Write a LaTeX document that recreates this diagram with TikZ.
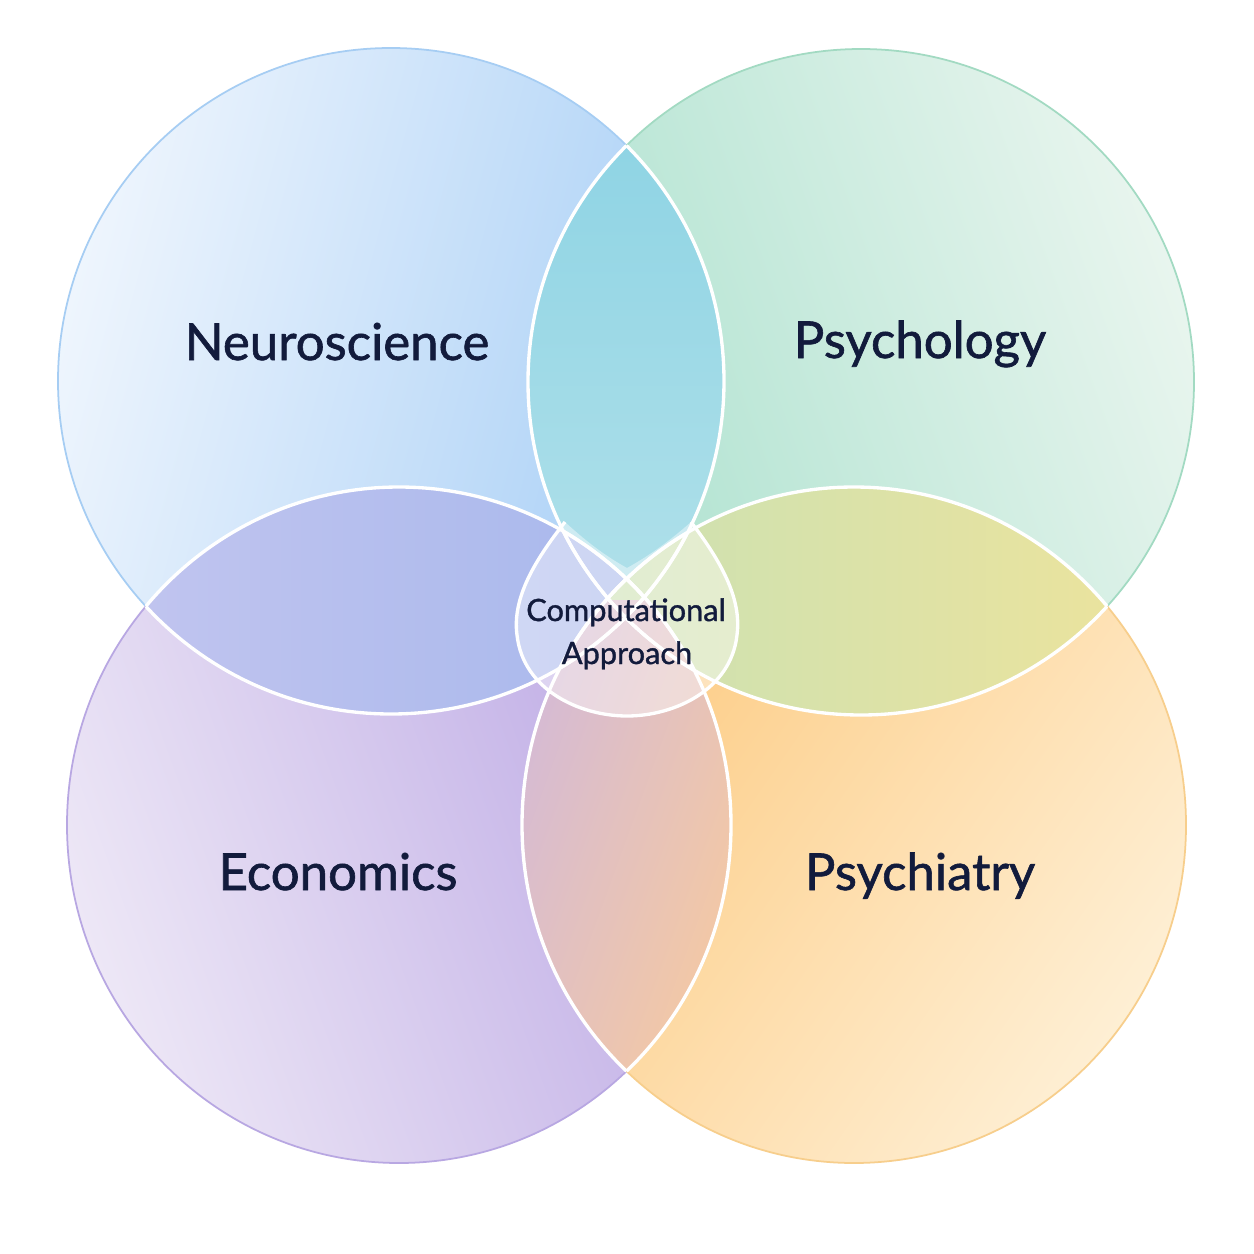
\documentclass[tikz,border=0pt]{standalone}
\usepackage{fontspec}
\setmainfont{Lato}
\newfontfamily\lblfont{Lato}[FakeBold=1.2]
\definecolor{ink}{HTML}{121B3C}
\definecolor{tlA}{HTML}{EEF5FD}
\definecolor{tlB}{HTML}{A6CEF6}
\definecolor{trA}{HTML}{E8F5EE}
\definecolor{trB}{HTML}{ABE1CE}
\definecolor{blA}{HTML}{EDE7F6}
\definecolor{blB}{HTML}{BBA7E4}
\definecolor{brA}{HTML}{FEEFD4}
\definecolor{brB}{HTML}{FDC97E}
\definecolor{tlO}{HTML}{A6CDF3}
\definecolor{trO}{HTML}{A2DAC2}
\definecolor{blO}{HTML}{B8A7E2}
\definecolor{brO}{HTML}{F7CE8C}
\definecolor{tA}{HTML}{8FD4E4}
\definecolor{tB}{HTML}{B2E1EA}
\definecolor{lA}{HTML}{C0C4EF}
\definecolor{lB}{HTML}{A8B8EC}
\definecolor{rA}{HTML}{CCE1B2}
\definecolor{rB}{HTML}{EAE39E}
\definecolor{bA}{HTML}{D4BAD6}
\definecolor{bB}{HTML}{F5C9A2}
\begin{document}
\begin{tikzpicture}[x=0.02cm,y=-0.02cm,
  big/.style={font=\lblfont\fontsize{29}{34}\selectfont, text=ink, inner sep=0pt, anchor=base},
  small/.style={font=\lblfont\fontsize{17.5}{21}\selectfont, text=ink, inner sep=0pt, anchor=base},
  wline/.style={draw=white, line width=1.9pt},
  oline/.style={line width=1pt}]
\def\cTL{(391,381) circle[radius=333]}
\def\cTR{(861,382) circle[radius=333]}
\def\cBL{(399,825) ellipse[x radius=332,y radius=338]}
\def\cBR{(854,825) ellipse[x radius=332,y radius=338]}
\useasboundingbox[fill=white] (0,0) rectangle (1254,1254);
% circle fills
\path[top color=tlA, bottom color=tlB, shading angle=75] \cTL;
\path[top color=trA, bottom color=trB, shading angle=-70] \cTR;
\path[top color=blA, bottom color=blB, shading angle=110] \cBL;
\path[top color=brA, bottom color=brB, shading angle=-125] \cBR;
% lens fills
\begin{scope}\clip \cTL; \clip \cTR; \path[top color=tA, bottom color=tB] (526,140) rectangle (726,630); \end{scope}
\begin{scope}\clip \cTL; \clip \cBL; \path[left color=lA, right color=lB] (146,480) rectangle (642,718); \end{scope}
\begin{scope}\clip \cTR; \clip \cBR; \path[left color=rA, right color=rB] (610,480) rectangle (1110,718); \end{scope}
\begin{scope}\clip \cBL; \clip \cBR; \path[left color=bA, right color=bB, shading angle=70] (518,600) rectangle (734,1078); \end{scope}
% outer outlines
\draw[oline, tlO] \cTL;
\draw[oline, trO] \cTR;
\draw[oline, blO] \cBL;
\draw[oline, brO] \cBR;
% white inner arcs
\foreach \a/\b in {\cTL/\cTR,\cTL/\cBL,\cTL/\cBR,\cTR/\cTL,\cTR/\cBL,\cTR/\cBR,\cBL/\cTL,\cBL/\cTR,\cBL/\cBR,\cBR/\cTL,\cBR/\cTR,\cBR/\cBL}{
  \begin{scope}\clip \b; \path[wline] \a; \end{scope}
}
% central region
\path[fill=white, fill opacity=0.42]
  (565,522) .. controls (535,560) and (512,598) .. (517,635)
  .. controls (523,690) and (580,716) .. (627,716)
  .. controls (674,716) and (731,690) .. (737,635)
  .. controls (742,598) and (720,560) .. (691,522)
  .. controls (665,545) and (645,558) .. (627,568)
  .. controls (609,558) and (590,545) .. cycle;
\path[wline]
  (565,522) .. controls (535,560) and (512,598) .. (517,635)
  .. controls (523,690) and (580,716) .. (627,716)
  .. controls (674,716) and (731,690) .. (737,635)
  .. controls (742,598) and (720,560) .. (691,522);
% labels
\node[big] (neuro) at (337,360) {Neuroscience};
\node[big] (psycho) at (920,358) {Psychology};
\node[big] (econ) at (338,890) {Economics};
\node[big] (psychi) at (920,890) {Psychiatry};
\node[small] (comp) at (626,621) {Computational};
\node[small] (appr) at (627,664) {Approach};
\end{tikzpicture}
\end{document}
